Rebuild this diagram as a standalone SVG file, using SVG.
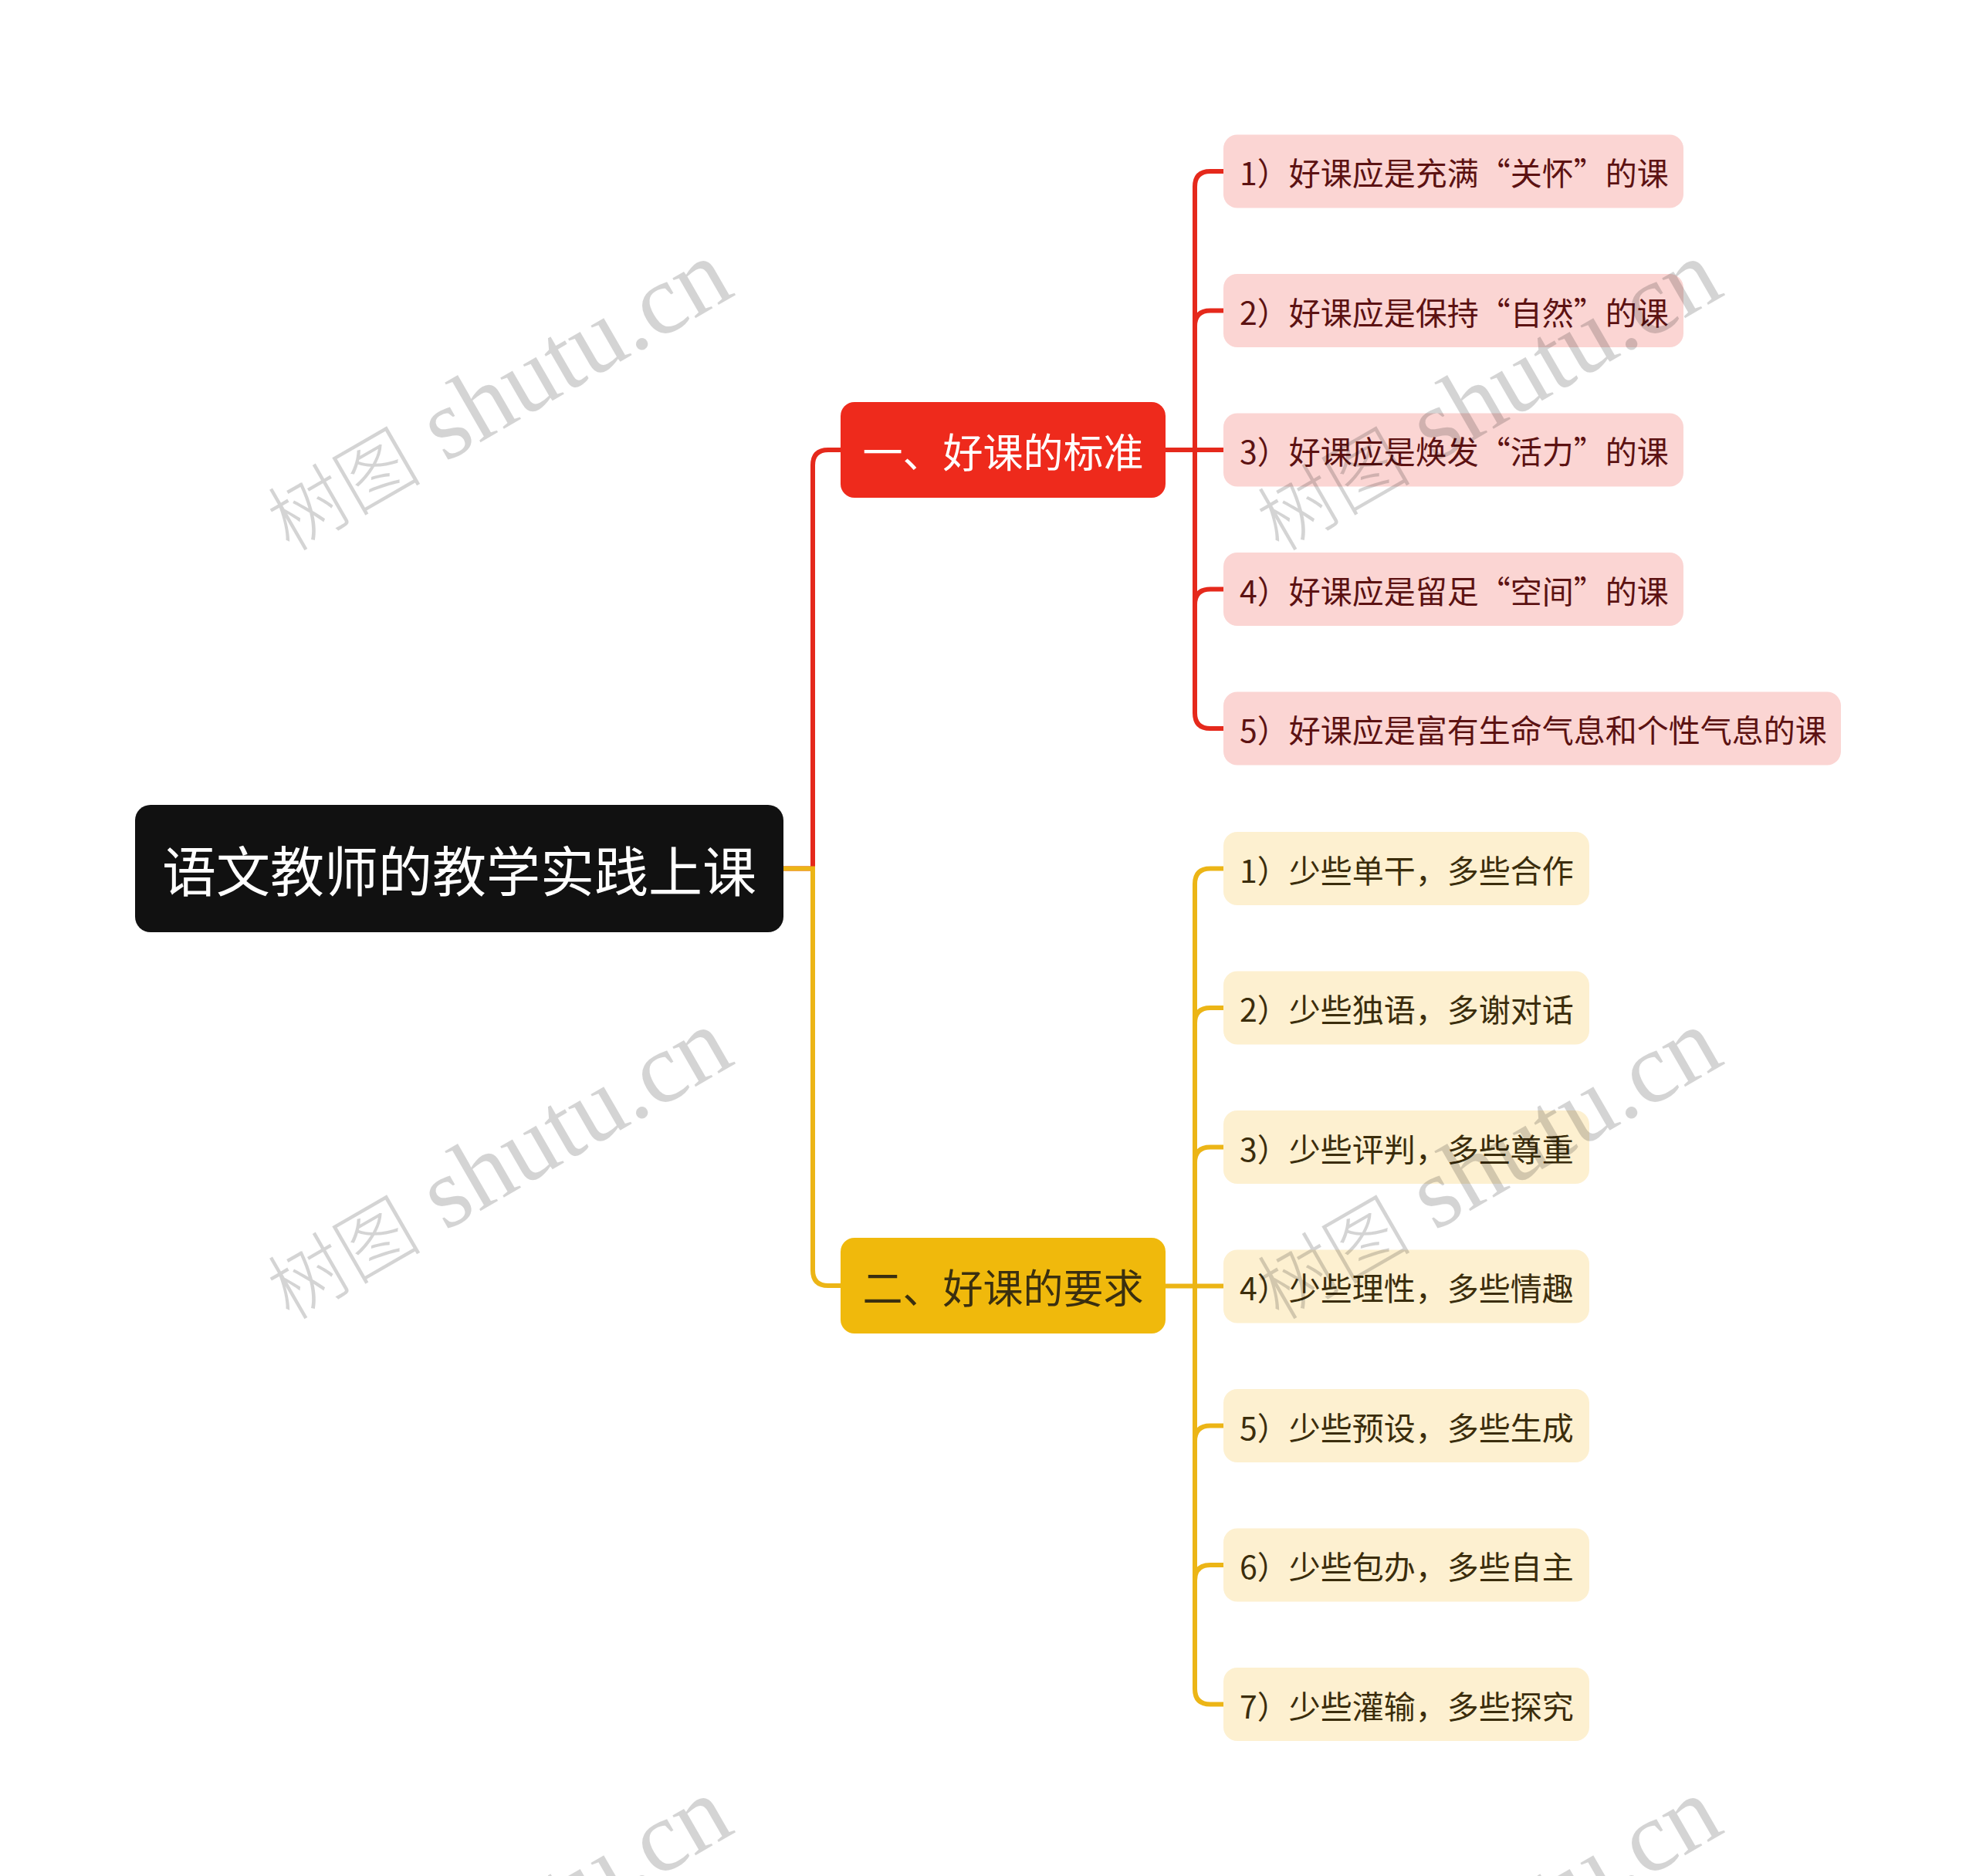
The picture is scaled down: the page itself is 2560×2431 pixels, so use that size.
<svg xmlns="http://www.w3.org/2000/svg" width="2560" height="2431" viewBox="0 0 2560 2431">
<style>
.t{font-family:"Noto Sans CJK SC","Microsoft YaHei",sans-serif;dominant-baseline:central}
.root{font-size:70px;fill:#ffffff}
.mid{font-size:52px}
.leaf{font-size:41px}
.pk rect{fill:#fbd5d3}
.pk text{fill:#5c1212}
.yl rect{fill:#fdf0d0}
.yl text{fill:#3b2d0c}
.cr{fill:none;stroke:#e5291c;stroke-width:6;stroke-linecap:round}
.cy{fill:none;stroke:#ecb516;stroke-width:6;stroke-linecap:round}
.wm{font-family:"Liberation Serif","Noto Sans CJK SC",serif;font-size:130px;fill:#000000;fill-opacity:0.17}
.wc{font-family:"Noto Sans CJK SC",serif;font-size:100px;font-weight:300}
</style>
<rect width="2560" height="2431" fill="#ffffff"/>
<g id="connectors">
<path class="cr" d="M1015,1125.5 H1053 V603 Q1053,583 1073,583 H1089"/>
<path class="cy" d="M1015,1125.5 H1053 V1646 Q1053,1666 1073,1666 H1089"/>
<path class="cr" d="M1510,583 H1585"/>
<path class="cr" d="M1585,222 H1568 Q1548,222 1548,242 V924 Q1548,944 1568,944 H1585"/>
<path class="cr" d="M1548,422.5 Q1548,402.5 1568,402.5 H1585"/>
<path class="cr" d="M1548,783.5 Q1548,763.5 1568,763.5 H1585"/>
<path class="cy" d="M1510,1666.5 H1585"/>
<path class="cy" d="M1585,1125.5 H1568 Q1548,1125.5 1548,1145.5 V2188.5 Q1548,2208.5 1568,2208.5 H1585"/>
<path class="cy" d="M1548,1326 Q1548,1306 1568,1306 H1585"/>
<path class="cy" d="M1548,1506.5 Q1548,1486.5 1568,1486.5 H1585"/>
<path class="cy" d="M1548,1867.5 Q1548,1847.5 1568,1847.5 H1585"/>
<path class="cy" d="M1548,2048 Q1548,2028 1568,2028 H1585"/>
</g>
<g id="root">
<rect x="175" y="1043" width="840" height="165" rx="20" fill="#111111"/>
<text class="t root" x="595" y="1125.5" text-anchor="middle">语文教师的教学实践上课</text>
</g>
<g id="n1">
<rect x="1089" y="521" width="421" height="124" rx="18" fill="#ee2a1c"/>
<text class="t mid" x="1299.5" y="583" text-anchor="middle" fill="#ffffff">一、好课的标准</text>
</g>
<g id="n2">
<rect x="1089" y="1604" width="421" height="124" rx="18" fill="#f0b90c"/>
<text class="t mid" x="1299.5" y="1666" text-anchor="middle" fill="#3a2f10">二、好课的要求</text>
</g>
<g id="a1" class="pk"><rect x="1585" y="174.5" width="596" height="95" rx="18"/><text class="t leaf" x="1606" y="222">1）好课应是充满“关怀”的课</text></g>
<g id="a2" class="pk"><rect x="1585" y="355" width="596" height="95" rx="18"/><text class="t leaf" x="1606" y="402.5">2）好课应是保持“自然”的课</text></g>
<g id="a3" class="pk"><rect x="1585" y="535.5" width="596" height="95" rx="18"/><text class="t leaf" x="1606" y="583">3）好课应是焕发“活力”的课</text></g>
<g id="a4" class="pk"><rect x="1585" y="716" width="596" height="95" rx="18"/><text class="t leaf" x="1606" y="763.5">4）好课应是留足“空间”的课</text></g>
<g id="a5" class="pk"><rect x="1585" y="896.5" width="800" height="95" rx="18"/><text class="t leaf" x="1606" y="944">5）好课应是富有生命气息和个性气息的课</text></g>
<g id="b1" class="yl"><rect x="1585" y="1078" width="474" height="95" rx="18"/><text class="t leaf" x="1606" y="1125.5">1）少些单干，多些合作</text></g>
<g id="b2" class="yl"><rect x="1585" y="1258.5" width="474" height="95" rx="18"/><text class="t leaf" x="1606" y="1306">2）少些独语，多谢对话</text></g>
<g id="b3" class="yl"><rect x="1585" y="1439" width="474" height="95" rx="18"/><text class="t leaf" x="1606" y="1486.5">3）少些评判，多些尊重</text></g>
<g id="b4" class="yl"><rect x="1585" y="1619.5" width="474" height="95" rx="18"/><text class="t leaf" x="1606" y="1667">4）少些理性，多些情趣</text></g>
<g id="b5" class="yl"><rect x="1585" y="1800" width="474" height="95" rx="18"/><text class="t leaf" x="1606" y="1847.5">5）少些预设，多些生成</text></g>
<g id="b6" class="yl"><rect x="1585" y="1980.5" width="474" height="95" rx="18"/><text class="t leaf" x="1606" y="2028">6）少些包办，多些自主</text></g>
<g id="b7" class="yl"><rect x="1585" y="2161" width="474" height="95" rx="18"/><text class="t leaf" x="1606" y="2208.5">7）少些灌输，多些探究</text></g>
<g id="watermarks">
<text class="wm" text-anchor="middle" transform="translate(645,514) rotate(-30)" y="40"><tspan class="wc">树图</tspan> shutu.cn</text>
<text class="wm" text-anchor="middle" transform="translate(1927,514) rotate(-30)" y="40"><tspan class="wc">树图</tspan> shutu.cn</text>
<text class="wm" text-anchor="middle" transform="translate(645,1510) rotate(-30)" y="40"><tspan class="wc">树图</tspan> shutu.cn</text>
<text class="wm" text-anchor="middle" transform="translate(1927,1510) rotate(-30)" y="40"><tspan class="wc">树图</tspan> shutu.cn</text>
<text class="wm" text-anchor="middle" transform="translate(645,2506) rotate(-30)" y="40"><tspan class="wc">树图</tspan> shutu.cn</text>
<text class="wm" text-anchor="middle" transform="translate(1927,2506) rotate(-30)" y="40"><tspan class="wc">树图</tspan> shutu.cn</text>
</g>
</svg>
